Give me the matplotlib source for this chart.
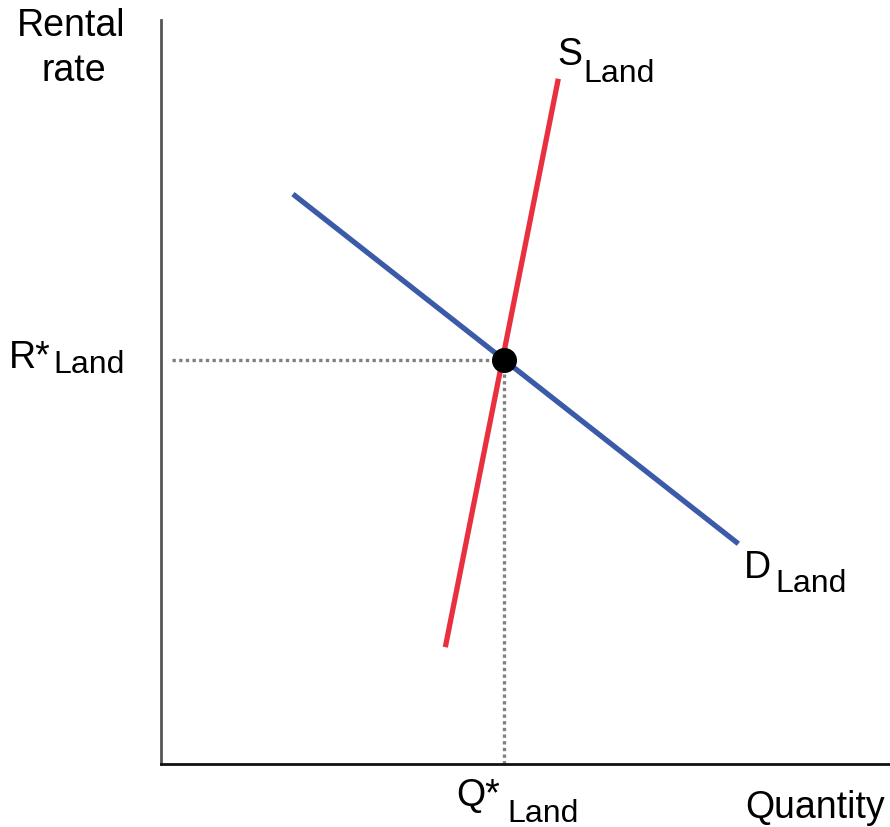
import matplotlib
matplotlib.use("Agg")
import matplotlib.pyplot as plt

plt.rcParams['font.family'] = ['Liberation Sans', 'DejaVu Sans']

# data (axis units 0-10)
supply_x = [3.90, 5.45]
supply_y = [1.57, 9.21]
demand_x = [1.81, 7.92]
demand_y = [7.66, 2.96]
eq_x, eq_y = 4.70, 5.43

W, H = 890, 828
fig = plt.figure(figsize=(W/100, H/100), dpi=100)
ax = fig.add_axes([161/W, 1-765/H, (890-161)/W, (765-21)/H])
ax.set_xlim(0, 10)
ax.set_ylim(0, 10)
ax.set_xticks([]); ax.set_yticks([])
for s in ['top', 'right']:
    ax.spines[s].set_visible(False)
ax.spines['left'].set_color('#555555')
ax.spines['left'].set_linewidth(2)
ax.spines['bottom'].set_color('#111111')
ax.spines['bottom'].set_linewidth(2)

ax.plot([0.15, eq_x], [eq_y, eq_y], ls=(0, (1, 1)), color='#808080', lw=2.4)
ax.plot([eq_x, eq_x], [0, eq_y], ls=(0, (1, 1)), color='#808080', lw=2.4)
ax.plot(demand_x, demand_y, color='#3B5AA8', lw=3.8, solid_capstyle='butt')
ax.plot(supply_x, supply_y, color='#E8303E', lw=3.8, solid_capstyle='butt')
ax.plot([eq_x], [eq_y], 'o', color='black', ms=17, zorder=5)

def t(x, y, s, size):
    fig.text(x/W, 1-y/H, s, fontsize=size, va='baseline', ha='left')

t(17, 36, 'Rental', 27)
t(41, 81, 'rate', 27)
t(9, 368, 'R*', 27)
t(53, 373, 'Land', 23)
t(456, 806, 'Q*', 27)
t(507, 822, 'Land', 23)
t(745, 818, 'Quantity', 27)
t(557, 65, 'S', 27)
t(583, 82, 'Land', 23)
t(744, 578, 'D', 27)
t(775, 592, 'Land', 23)

fig.savefig('out.png', dpi=100)
